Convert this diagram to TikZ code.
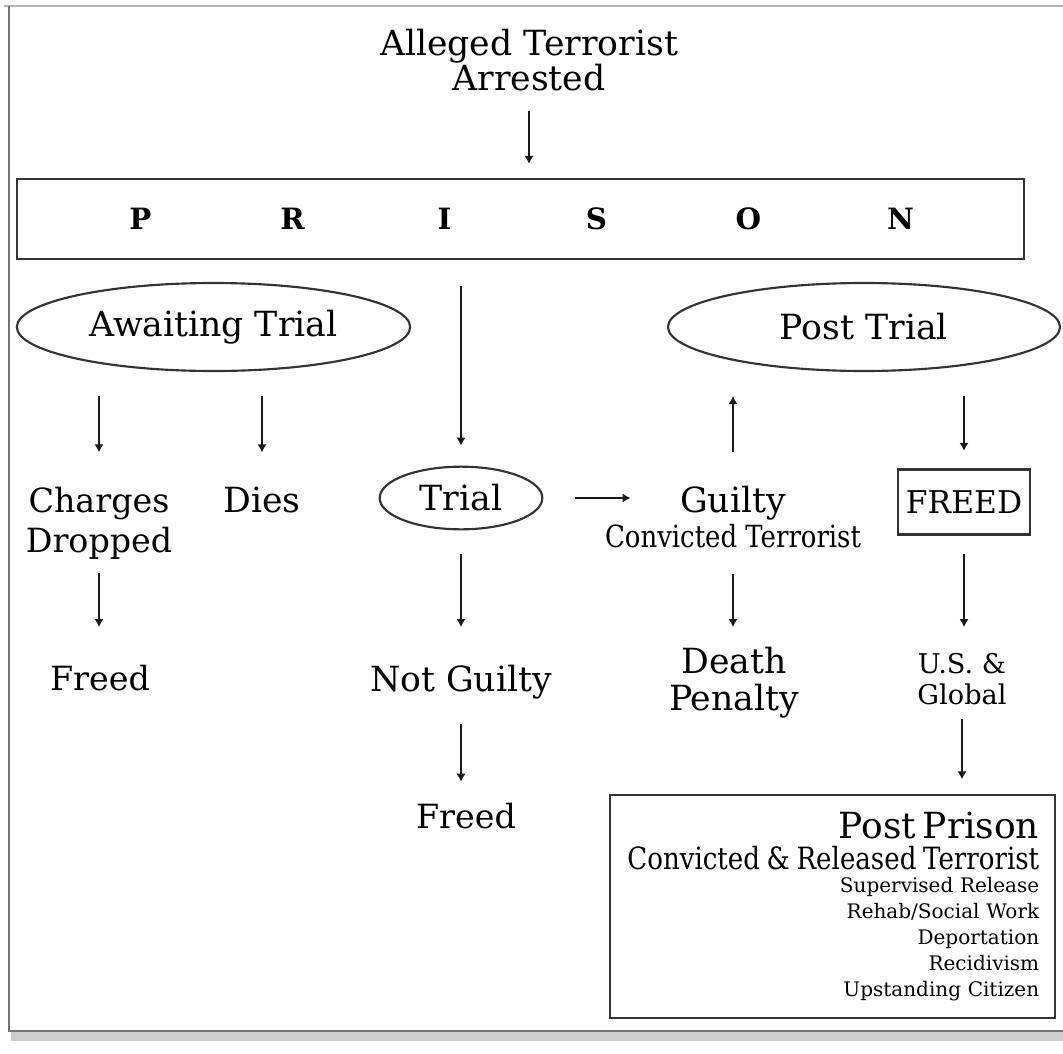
\documentclass[tikz,border=0pt]{standalone}
\usepackage{fontspec}
\setmainfont{DejaVu Serif}
\newfontfamily\narrowfont{DejaVu Serif}[FakeStretch=0.85]
\usepackage{tikz}
\usetikzlibrary{arrows.meta,shapes.geometric,positioning}

\newcommand{\prisonletters}{%
  \makebox[114pt]{P}\makebox[114pt]{R}\makebox[114pt]{I}%
  \makebox[114pt]{S}\makebox[114pt]{O}\makebox[114pt]{N}}

\begin{document}
\begin{tikzpicture}[x=0.75pt, y=-0.75pt,
  lbl/.style={inner sep=0pt, anchor=north, align=center, font=\fontsize{26}{30}\selectfont},
  oval/.style={draw=black!80, line width=1.6pt, ellipse, inner sep=0pt, font=\fontsize{26}{30}\selectfont},
  boxed/.style={draw=black!80, line width=1.8pt, rectangle, inner sep=0pt}]

% frame
\useasboundingbox (0,0) rectangle (1063,1053);
\fill[black!20] (11,1032) rectangle (1063,1041);
\draw[black!30, line width=2pt] (4,6) -- (1063,6);
\draw[black!55, line width=1.5pt] (9,6) -- (9,1031) -- (1063,1031);

\path
  node[lbl, font=\fontsize{26}{26}\selectfont] (alleged) at (529,29) {Alleged Terrorist\\Arrested}
  node[boxed, minimum width=755pt, minimum height=60pt, font=\bfseries\fontsize{22}{22}\selectfont] (prison) at (520.5,219) {\prisonletters}
  node[oval, minimum width=295pt, minimum height=66pt] (awaiting) at (213.5,327) {Awaiting Trial}
  node[oval, minimum width=294pt, minimum height=66pt] (posttrial) at (864,327) {Post Trial}
  node[lbl, font=\fontsize{25}{30}\selectfont] (charges) at (99,487) {Charges\\Dropped}
  node[lbl] (dies) at (262,487) {Dies}
  node[oval, minimum width=122pt, minimum height=47pt] (trial) at (461,498) {Trial}
  node[lbl] (guilty) at (733,486) {Guilty}
  node[lbl, font=\narrowfont\fontsize{22.9}{22.9}\selectfont] (convicted) at (733,524) {Convicted Terrorist}
  node[boxed, minimum width=99pt, minimum height=49pt, font=\fontsize{23.5}{23.5}\selectfont] (freedbox) at (964,502) {FREED}
  node[lbl, font=\fontsize{25}{30}\selectfont] (freedL) at (100,665) {Freed}
  node[lbl] (notguilty) at (461,665) {Not Guilty}
  node[lbl, font=\fontsize{26}{28}\selectfont] (death) at (734,647) {Death\\Penalty}
  node[lbl, font=\fontsize{20.4}{23}\selectfont] (usglobal) at (962,653) {U.S. \&\\Global}
  node[lbl, font=\fontsize{25}{30}\selectfont] (freedM) at (466,803) {Freed}
  node[boxed, minimum width=334pt, minimum height=167pt, inner xsep=12pt, text width=310pt,
       align=right, font=\fontsize{15}{19.5}\selectfont] (postprison) at (832.5,906.5)
       {{\fontsize{27}{27}\selectfont Post Prison}\\[4pt]
        \mbox{\narrowfont\fontsize{23}{23}\selectfont Convicted \& Released Terrorist}\\[-2pt]
        Supervised Release\\Rehab/Social Work\\Deportation\\Recidivism\\Upstanding Citizen};

\begin{scope}[-{Latex[length=6pt, width=7pt]}, line width=1.3pt, black!90]
  % into prison
  \draw[shorten <=15pt, shorten >=10.5pt] (alleged) -- (alleged |- prison.north);
  \draw[shorten <=19pt, shorten >=15pt] (prison.south -| trial) -- (trial);
  % awaiting trial
  \draw[shorten <=18pt, shorten >=26pt] (charges |- awaiting.south) -- (charges);
  \draw[shorten <=18pt, shorten >=26pt] (dies |- awaiting.south) -- (dies);
  \draw[shorten <=10pt, shorten >=28.5pt] (charges) -- (charges |- freedL.north);
  % trial
  \draw[shorten <=24pt, shorten >=37pt] (trial) -- (trial -| guilty.west);
  \draw[shorten <=17.5pt, shorten >=28.5pt] (trial) -- (notguilty);
  \draw[shorten <=18pt, shorten >=16pt] (notguilty) -- (notguilty |- freedM.north);
  % post trial
  \draw[shorten <=25.5pt, shorten >=18pt] (guilty) -- (guilty |- posttrial.south);
  \draw[shorten <=19.5pt, shorten >=15pt] (convicted) -- (convicted |- death.north);
  \draw[shorten <=18pt, shorten >=13pt] (freedbox |- posttrial.south) -- (freedbox);
  \draw[shorten <=13.5pt, shorten >=19.5pt] (freedbox) -- (freedbox |- usglobal.north);
  \draw[shorten <=11pt, shorten >=11pt] (usglobal) -- (usglobal |- postprison.north);
\end{scope}

\end{tikzpicture}
\end{document}
